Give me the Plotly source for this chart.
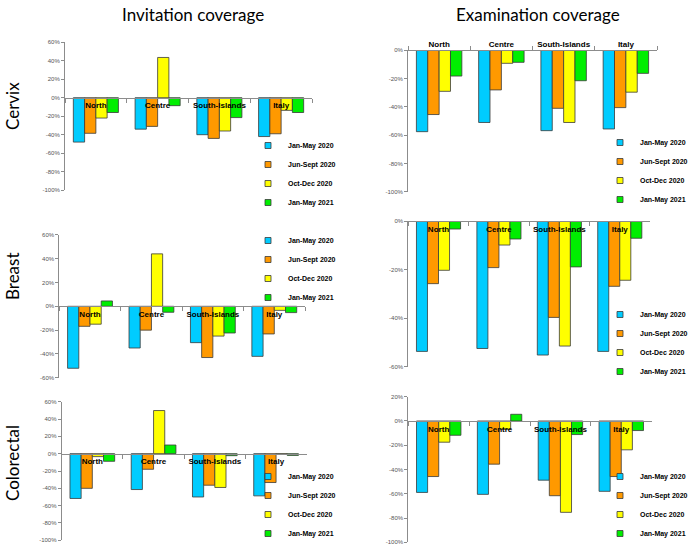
import plotly.graph_objects as go

# ---------------- data ----------------
categories = ["North", "Centre", "South-Islands", "Italy"]
periods = ["Jan-May 2020", "Jun-Sept 2020", "Oct-Dec 2020", "Jan-May 2021"]
colors = ["#00CCFF", "#FF9900", "#FFFF00", "#00EE00"]

cervix_invitation_jan_may_2020 = [-48, -34, -40, -42]
cervix_invitation_jun_sept_2020 = [-38.5, -31, -44, -39]
cervix_invitation_oct_dec_2020 = [-22, 43.5, -36, -13.7]
cervix_invitation_jan_may_2021 = [-16, -8.6, -21.5, -16]

cervix_examination_jan_may_2020 = [-57.5, -51, -56.8, -55.6]
cervix_examination_jun_sept_2020 = [-45.4, -28, -41, -40.5]
cervix_examination_oct_dec_2020 = [-29, -9.2, -51, -29.6]
cervix_examination_jan_may_2021 = [-18.2, -8.5, -21.5, -16.3]

breast_invitation_jan_may_2020 = [-52, -35, -30.5, -42]
breast_invitation_jun_sept_2020 = [-16.8, -20, -43, -23.2]
breast_invitation_oct_dec_2020 = [-15, 44, -25, -3.4]
breast_invitation_jan_may_2021 = [4.5, -5, -22.4, -5.3]

breast_examination_jan_may_2020 = [-53.7, -52.5, -55.2, -53.7]
breast_examination_jun_sept_2020 = [-25.8, -19.2, -39.7, -26.9]
breast_examination_oct_dec_2020 = [-20.3, -9.9, -51.5, -24.4]
breast_examination_jan_may_2021 = [-3.3, -7.4, -18.9, -7.1]

colorectal_invitation_jan_may_2020 = [-51.7, -41.4, -50, -48.7]
colorectal_invitation_jun_sept_2020 = [-40, -18, -36.4, -33.3]
colorectal_invitation_oct_dec_2020 = [-3.4, 49.8, -39, -0.5]
colorectal_invitation_jan_may_2021 = [-8.8, 10, -2.3, -2]

colorectal_examination_jan_may_2020 = [-58.9, -60.5, -48.8, -58]
colorectal_examination_jun_sept_2020 = [-45.8, -35.6, -61.6, -45.8]
colorectal_examination_oct_dec_2020 = [-17.5, -7, -75.3, -23.8]
colorectal_examination_jan_may_2021 = [-11.8, 5.5, -11.2, -7.9]

y_ticks_60 = [60, 40, 20, 0, -20, -40, -60, -80, -100]
y_ticks_0 = [0, -20, -40, -60, -80, -100]
y_ticks_b_inv = [60, 40, 20, 0, -20, -40, -60]
y_ticks_b_exam = [0, -20, -40, -60]
y_ticks_20 = [20, 0, -20, -40, -60, -80, -100]

column_titles = ["Invitation coverage", "Examination coverage"]
row_titles = ["Cervix", "Breast", "Colorectal"]

# ---------------- layout helpers ----------------
W, H = 696, 548


def px_x(v):
    return v / W


def px_y(v):
    return 1 - v / H


panels = [
    dict(series=[cervix_invitation_jan_may_2020, cervix_invitation_jun_sept_2020,
                 cervix_invitation_oct_dec_2020, cervix_invitation_jan_may_2021],
         xd=(65, 312), yd=(42.2, 190.2), rng=(-100, 60), ticks=y_ticks_60,
         side="bottom", leg=(248, 131, "top")),
    dict(series=[cervix_examination_jan_may_2020, cervix_examination_jun_sept_2020,
                 cervix_examination_oct_dec_2020, cervix_examination_jan_may_2021],
         xd=(408, 657), yd=(50.3, 191.8), rng=(-100, 0), ticks=y_ticks_0,
         side="top", leg=(600, 128, "top")),
    dict(series=[breast_invitation_jan_may_2020, breast_invitation_jun_sept_2020,
                 breast_invitation_oct_dec_2020, breast_invitation_jan_may_2021],
         xd=(59.3, 305), yd=(234.8, 377.8), rng=(-60, 60), ticks=y_ticks_b_inv,
         side="bottom", leg=(248, 226, "top")),
    dict(series=[breast_examination_jan_may_2020, breast_examination_jun_sept_2020,
                 breast_examination_oct_dec_2020, breast_examination_jan_may_2021],
         xd=(408.3, 650), yd=(221, 366.7), rng=(-60, 0), ticks=y_ticks_b_exam,
         side="bottom", leg=(600, 300, "top")),
    dict(series=[colorectal_invitation_jan_may_2020, colorectal_invitation_jun_sept_2020,
                 colorectal_invitation_oct_dec_2020, colorectal_invitation_jan_may_2021],
         xd=(61.7, 306.7), yd=(401.7, 540.3), rng=(-100, 60), ticks=y_ticks_60,
         side="bottom", leg=(248, 548, "bottom")),
    dict(series=[colorectal_examination_jan_may_2020, colorectal_examination_jun_sept_2020,
                 colorectal_examination_oct_dec_2020, colorectal_examination_jan_may_2021],
         xd=(408.3, 651.7), yd=(396.7, 542.3), rng=(-100, 20), ticks=y_ticks_20,
         side="bottom", leg=(600, 548, "bottom")),
]

fig = go.Figure()
layout = {}
axis_grey = "#8C8C8C"

for i, p in enumerate(panels, start=1):
    sfx = "" if i == 1 else str(i)
    xname, yname = "x" + sfx, "y" + sfx
    legname = "legend" + sfx
    for k, (name, col) in enumerate(zip(periods, colors)):
        fig.add_trace(go.Bar(
            x=categories, y=p["series"][k], name=name,
            marker=dict(color=col, line=dict(color="#3A3A3A", width=0.8)),
            xaxis=xname, yaxis=yname, legend=legname, showlegend=False,
        ))
        fig.add_trace(go.Scatter(
            x=[None], y=[None], name=name, mode="markers",
            marker=dict(symbol="square", size=6, color=col,
                        line=dict(color="#3A3A3A", width=0.8)),
            xaxis=xname, yaxis=yname, legend=legname, showlegend=True,
        ))
    ydom = (px_y(p["yd"][1]), px_y(p["yd"][0]))
    rmin, rmax = p["rng"]
    zero_pos = ydom[0] + (0 - rmin) / (rmax - rmin) * (ydom[1] - ydom[0])
    layout["xaxis" + sfx] = dict(
        domain=[px_x(p["xd"][0]), px_x(p["xd"][1])],
        anchor="free", position=zero_pos, side=p["side"],
        type="category", categoryorder="array", categoryarray=categories,
        showline=True, linecolor=axis_grey, linewidth=1,
        ticks="outside", tickson="boundaries", ticklen=4, tickcolor=axis_grey,
        tickangle=0, automargin=False,
        showgrid=False, zeroline=False,
        tickfont=dict(family="Liberation Sans", size=8, color="black", weight="bold"),
        fixedrange=True,
    )
    layout["yaxis" + sfx] = dict(
        domain=list(ydom), anchor=xname, range=[rmin, rmax],
        tickvals=p["ticks"], ticktext=[f"{t}%" for t in p["ticks"]],
        showline=True, linecolor=axis_grey, linewidth=1,
        ticks="outside", ticklen=3, tickcolor=axis_grey,
        showgrid=False, zeroline=False, automargin=False,
        tickfont=dict(family="Liberation Sans", size=6, color="#555555"),
        fixedrange=True,
    )
    layout[legname] = dict(
        x=px_x(p["leg"][0]), y=px_y(p["leg"][1]), xanchor="left", yanchor=p["leg"][2],
        bgcolor="rgba(0,0,0,0)", borderwidth=0,
        font=dict(family="Liberation Sans", size=7, color="black", weight="bold"),
        itemwidth=30, tracegroupgap=0,
    )

annotations = [
    dict(text=column_titles[0], x=px_x(193), y=px_y(15), xref="paper", yref="paper",
         xanchor="center", yanchor="middle",
         showarrow=False, font=dict(family="Lato", size=17, color="black")),
    dict(text=column_titles[1], x=px_x(538), y=px_y(15), xref="paper", yref="paper",
         xanchor="center", yanchor="middle",
         showarrow=False, font=dict(family="Lato", size=17, color="black")),
]
for t, yc in zip(row_titles, [106, 276, 463]):
    annotations.append(dict(text=t, x=px_x(12), y=px_y(yc), xref="paper", yref="paper",
                            xanchor="center", yanchor="middle",
                            textangle=-90, showarrow=False,
                            font=dict(family="Lato", size=17, color="black")))

fig.update_layout(
    width=W, height=H, margin=dict(l=0, r=0, t=0, b=0),
    paper_bgcolor="white", plot_bgcolor="white",
    barmode="group", bargap=0.27, bargroupgap=0,
    annotations=annotations,
    **layout,
)

# remove the browser's default 8px page margin so the figure fills the window
fig.write_html("out.html", config={"displayModeBar": False, "staticPlot": False},
               post_script="document.body.style.margin='0';")
